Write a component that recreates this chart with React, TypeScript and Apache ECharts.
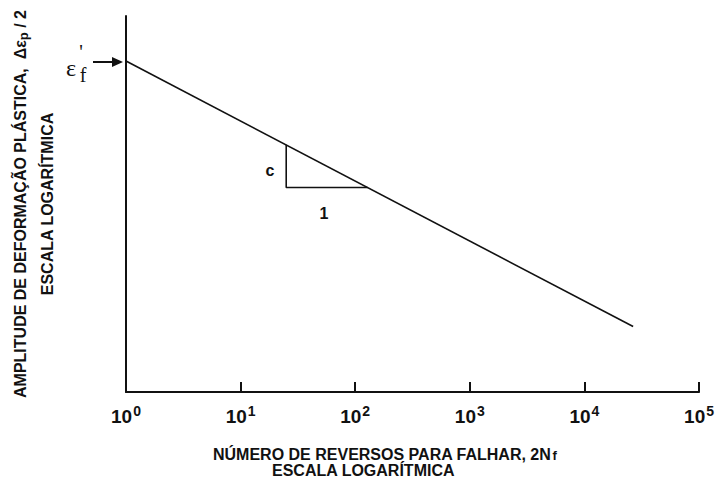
import React, { useEffect, useRef } from "react";
import * as echarts from "echarts";

// Decades shown on the cycles axis (10^0 ... 10^5)
const decadeExponents = [0, 1, 2, 3, 4, 5];
const cyclesMin = 1;
const cyclesMax = 100000;

// Plastic strain amplitude vs. reversals to failure (log-log)
const plasticLineCycles = [1, 26600];
const plasticLineStrain = [1, 0.00221];

// Slope triangle: rise "c" over a run of one unit
const triangleCycles = [25, 25, 128];
const triangleStrain = [0.145, 0.0544, 0.0544];

// Strain axis extent (log scale, unlabelled)
const strainMin = 0.00049;
const strainMax = 2.818;

const SANS = '"Liberation Sans", Arial, sans-serif';
const SERIF = '"Liberation Serif", "Times New Roman", serif';

export default function App() {
  const ref = useRef<HTMLDivElement>(null);

  useEffect(() => {
    if (!ref.current) return;
    const chart = echarts.init(ref.current, null, { renderer: "svg" });

    const linePoints = plasticLineCycles.map((c, i) => [c, plasticLineStrain[i]]);
    const trianglePoints = triangleCycles.map((c, i) => [c, triangleStrain[i]]);

    chart.setOption({
      animation: false,
      backgroundColor: "#fff",
      grid: { left: 126, right: 17, top: 16, bottom: 85, containLabel: false },
      xAxis: {
        type: "log",
        logBase: 10,
        min: cyclesMin,
        max: cyclesMax,
        axisLine: { show: true, lineStyle: { color: "#111", width: 2 } },
        axisTick: { show: true, inside: true, length: 10, lineStyle: { color: "#111", width: 2 } },
        minorTick: { show: false },
        splitLine: { show: false },
        axisLabel: {
          margin: 12,
          color: "#111",
          formatter: (v: number) => {
            const e = Math.round(Math.log10(v));
            return decadeExponents.includes(e) ? `{b|10}{s|${e}}` : "";
          },
          rich: {
            b: { fontFamily: SANS, fontWeight: "bold", fontSize: 19, lineHeight: 22, color: "#111", verticalAlign: "bottom" },
            s: { fontFamily: SANS, fontWeight: "bold", fontSize: 14, lineHeight: 14, color: "#111", verticalAlign: "top", padding: [0, 0, 0, 1] },
          },
        },
      },
      yAxis: {
        type: "log",
        logBase: 10,
        min: strainMin,
        max: strainMax,
        axisLine: { show: true, lineStyle: { color: "#111", width: 2 } },
        axisTick: { show: false },
        axisLabel: { show: false },
        splitLine: { show: false },
        minorTick: { show: false },
      },
      series: [
        {
          type: "line",
          data: linePoints,
          showSymbol: false,
          lineStyle: { color: "#111", width: 1.6 },
        },
        {
          type: "line",
          data: trianglePoints,
          showSymbol: false,
          lineStyle: { color: "#111", width: 1.6 },
        },
      ],
      graphic: [
        // fatigue ductility coefficient marker
        { type: "text", x: 71, y: 68, style: { text: "ε", font: `24px ${SERIF}`, fill: "#111", align: "center", verticalAlign: "middle" } },
        { type: "text", x: 83, y: 75, style: { text: "f", font: `20px ${SERIF}`, fill: "#111", align: "center", verticalAlign: "middle" } },
        { type: "text", x: 81, y: 52, style: { text: "'", font: `20px ${SERIF}`, fill: "#111", align: "center", verticalAlign: "middle" } },
        { type: "line", shape: { x1: 93, y1: 62, x2: 114, y2: 62 }, style: { stroke: "#111", lineWidth: 2 } },
        { type: "polygon", shape: { points: [[112, 57], [123, 62], [112, 67]] }, style: { fill: "#111" } },
        // slope triangle labels
        { type: "text", x: 270, y: 170, style: { text: "c", font: `bold 16px ${SANS}`, fill: "#111", align: "center", verticalAlign: "middle" } },
        { type: "text", x: 324, y: 213, style: { text: "1", font: `bold 16px ${SANS}`, fill: "#111", align: "center", verticalAlign: "middle" } },
        // y-axis title
        {
          type: "text",
          x: 20,
          y: 204,
          rotation: Math.PI / 2,
          style: {
            text: "AMPLITUDE DE DEFORMAÇÃO PLÁSTICA,  {g|Δε}{p|p}{g| / 2}",
            font: `bold 16px ${SANS}`,
            fill: "#111",
            align: "center",
            verticalAlign: "middle",
            rich: {
              g: { fontFamily: SANS, fontWeight: "bold", fontSize: 16, lineHeight: 20, fill: "#111" },
              p: { fontFamily: SANS, fontWeight: "bold", fontSize: 13, lineHeight: 13, fill: "#111", verticalAlign: "bottom" },
            },
          },
        },
        {
          type: "text",
          x: 47,
          y: 204,
          rotation: Math.PI / 2,
          style: { text: "ESCALA LOGARÍTMICA", font: `bold 16px ${SANS}`, fill: "#111", align: "center", verticalAlign: "middle" },
        },
        // x-axis title, two lines in one block
        {
          type: "text",
          x: 213,
          y: 462,
          style: {
            text: "{a|NÚMERO DE REVERSOS PARA FALHAR, 2N}{f|f}\n{b|ESCALA LOGARÍTMICA}",
            font: `bold 16px ${SANS}`,
            fill: "#111",
            align: "left",
            verticalAlign: "middle",
            rich: {
              a: { fontFamily: SANS, fontWeight: "bold", fontSize: 16, lineHeight: 16, fill: "#111" },
              f: { fontFamily: SANS, fontWeight: "bold", fontSize: 13, lineHeight: 13, fill: "#111", verticalAlign: "bottom", padding: [0, 0, 0, 1] },
              b: { fontFamily: SANS, fontWeight: "bold", fontSize: 16, lineHeight: 16, fill: "#111", padding: [0, 0, 0, 59] },
            },
          },
        },
      ],
    });

    return () => chart.dispose();
  }, []);

  return <div ref={ref} style={{ width: 717, height: 477, position: "absolute", left: 0, top: 0 }} />;
}
